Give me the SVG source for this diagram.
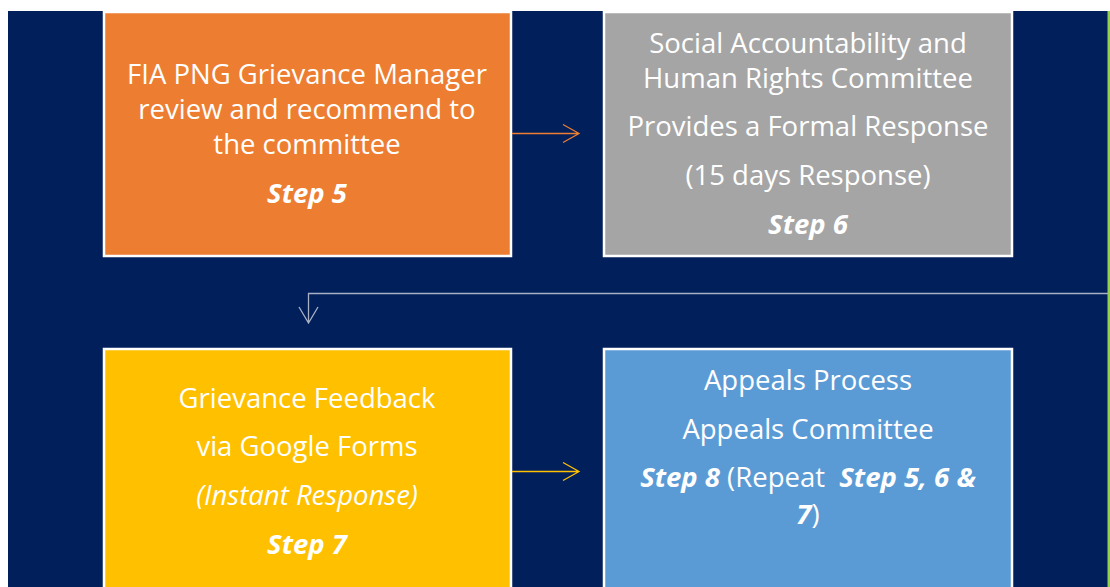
<svg xmlns="http://www.w3.org/2000/svg" width="1110" height="587" viewBox="0 0 1110 587">
  <defs>
    <style>
      .box { stroke: #FFFFFF; stroke-width: 2.5; }
      .t { font-family: "Open Sans", "Noto Sans", sans-serif; font-size: 27.5px; fill: #FFFFFF; text-anchor: middle; }
      .b { font-weight: bold; font-style: italic; }
      .i { font-style: italic; }
      .pre { white-space: pre; }
      .conn { fill: none; stroke-width: 1.3; }
    </style>
  </defs>

  <!-- page and panel -->
  <rect x="0" y="0" width="1110" height="587" fill="#FFFFFF"/>
  <rect x="8" y="11" width="1100" height="576" fill="#001F5B"/>
  <rect x="1107.5" y="11" width="2.5" height="576" fill="#92D050"/>

  <!-- Step 5 -->
  <g id="step5">
    <rect class="box" x="104" y="12" width="407" height="244" fill="#ED7D31"/>
    <text class="t" x="307" y="84">FIA PNG Grievance Manager</text>
    <text class="t" x="307" y="119">review and recommend to</text>
    <text class="t" x="307" y="154">the committee</text>
    <text class="t b" x="307" y="203">Step 5</text>
  </g>

  <!-- Step 6 -->
  <g id="step6">
    <rect class="box" x="604" y="12" width="408" height="244" fill="#A5A5A5"/>
    <text class="t" x="808" y="53">Social Accountability and</text>
    <text class="t" x="808" y="88">Human Rights Committee</text>
    <text class="t" x="808" y="136">Provides a Formal Response</text>
    <text class="t" x="808" y="185">(15 days Response)</text>
    <text class="t b" x="808" y="234">Step 6</text>
  </g>

  <!-- Step 7 -->
  <g id="step7">
    <rect class="box" x="104" y="349" width="407" height="250" fill="#FFC000"/>
    <text class="t" x="307" y="408">Grievance Feedback</text>
    <text class="t" x="307" y="456">via Google Forms</text>
    <text class="t i" x="307" y="505">(Instant Response)</text>
    <text class="t b" x="307" y="554">Step 7</text>
  </g>

  <!-- Step 8 -->
  <g id="step8">
    <rect class="box" x="604" y="349" width="408" height="250" fill="#5B9BD5"/>
    <text class="t" x="808" y="390">Appeals Process</text>
    <text class="t" x="808" y="439">Appeals Committee</text>
    <text class="t pre" x="808" y="487"><tspan class="b">Step 8</tspan> (Repeat  <tspan class="b">Step 5, 6 &amp;</tspan></text>
    <text class="t" x="808" y="524"><tspan class="b">7</tspan>)</text>
  </g>

  <!-- connectors -->
  <g id="connectors">
    <path class="conn" stroke="#ED7D31" d="M512 133.5 H579 M563 124.5 L579 133.5 L563 142.5"/>
    <path class="conn" stroke="#FFC000" d="M512 471.5 H579 M563 462.5 L579 471.5 L563 480.5"/>
    <path class="conn" stroke="#A9B1C4" d="M1108 293.5 H308.5 V323 M299 307 L308.5 323 L318 307"/>
  </g>
</svg>
